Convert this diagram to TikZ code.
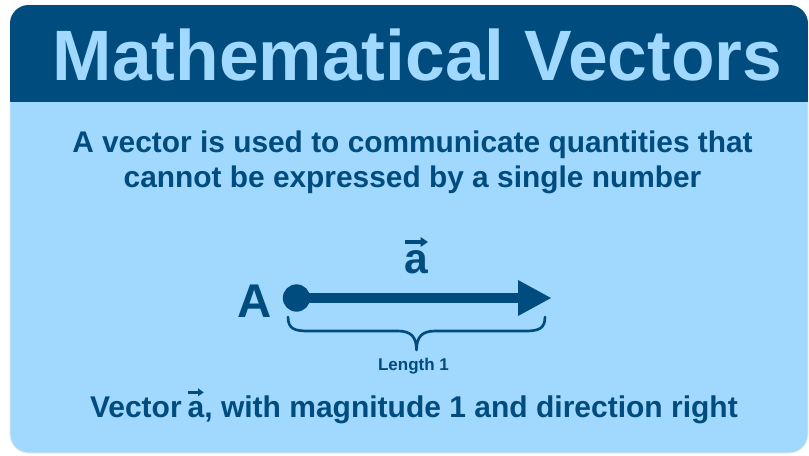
\documentclass[tikz,border=0pt]{standalone}
\usepackage{fontspec}
\setmainfont{Liberation Sans}
\usetikzlibrary{arrows.meta}
\definecolor{darkblue}{HTML}{004C7F}
\definecolor{lightblue}{HTML}{A1D8FD}
\tikzset{
  txt/.style={inner sep=0pt, outer sep=0pt, text=darkblue, font=\bfseries},
  vecarrow/.style={draw=darkblue, line width=2.4pt, -{Triangle[length=5.5pt,width=7pt]}},
}
\begin{document}
\begin{tikzpicture}[x=0.75pt,y=-0.75pt]
\useasboundingbox (0,0) rectangle (809,455);
% card
\path[fill=lightblue, draw=black!8, line width=0.6pt, rounded corners=14pt] (10,5) rectangle (808,453);
\begin{scope}
  \clip[rounded corners=14pt] (10,5) rectangle (808,453);
  \fill[darkblue] (10,5) rectangle (808,102);
\end{scope}
% title
\node[txt, text=lightblue, anchor=base, font=\bfseries\fontsize{53.5pt}{60pt}\selectfont] (title) at (417.5,80) {Mathematical Vectors};
% subtitle
\node[txt, anchor=base, font=\bfseries\fontsize{22.4pt}{26pt}\selectfont] (sub1) at (412.5,152) {A vector is used to communicate quantities that};
\node[txt, anchor=base, font=\bfseries\fontsize{22.4pt}{26pt}\selectfont] (sub2) at (412.5,187) {cannot be expressed by a single number};
% vector diagram
\node[txt, anchor=base, font=\bfseries\fontsize{35.5pt}{40pt}\selectfont] (A) at (255,317) {A};
\node[txt, anchor=base, font=\bfseries\fontsize{32pt}{38pt}\selectfont] (avec) at (416,273) {a};
\coordinate (avl) at (405,242);
\coordinate (avr) at (428,242);
\draw[vecarrow] (avl) -- (avr);
\node[circle, fill=darkblue, minimum size=20.5pt, inner sep=0pt] (dot) at (296.5,298) {};
\coordinate (shaftend) at (522,298);
\draw[darkblue, line width=7.5pt] (dot.center) -- (shaftend);
\coordinate (tip) at (551,298);
\fill[darkblue] (518,280) -- (tip) -- (518,316) -- cycle;
% brace
\draw[darkblue, line width=2pt, line cap=round, line join=round]
  (288,317) .. controls (288,329) and (295,331) .. (308,331)
  -- (398,331) .. controls (411,331) and (416.5,337) .. (416.5,350)
  .. controls (416.5,337) and (422,331) .. (435,331)
  -- (525,331) .. controls (538,331) and (545,329) .. (545,317);
\node[txt, anchor=base, font=\bfseries\fontsize{12.75pt}{15pt}\selectfont] (len) at (413.5,370) {Length 1};
% bottom caption
\node[txt, anchor=base west, font=\bfseries\fontsize{22.5pt}{26pt}\selectfont] (cap1) at (90,417) {Vector};
\node[txt, anchor=base west, font=\bfseries\fontsize{22.5pt}{26pt}\selectfont] (capa) at ([xshift=4.5pt]cap1.base east) {a};
\node[txt, anchor=base west, font=\bfseries\fontsize{22.5pt}{26pt}\selectfont] (cap2) at (capa.base east) {, with magnitude 1 and direction right};
\coordinate (cvl) at ([xshift=0.3pt, yshift=18.5pt]capa.base west);
\coordinate (cvr) at ([xshift=-0.5pt, yshift=18.5pt]capa.base east);
\draw[vecarrow, line width=1.9pt, -{Triangle[length=4.2pt,width=5.6pt]}] (cvl) -- (cvr);
\end{tikzpicture}
\end{document}
